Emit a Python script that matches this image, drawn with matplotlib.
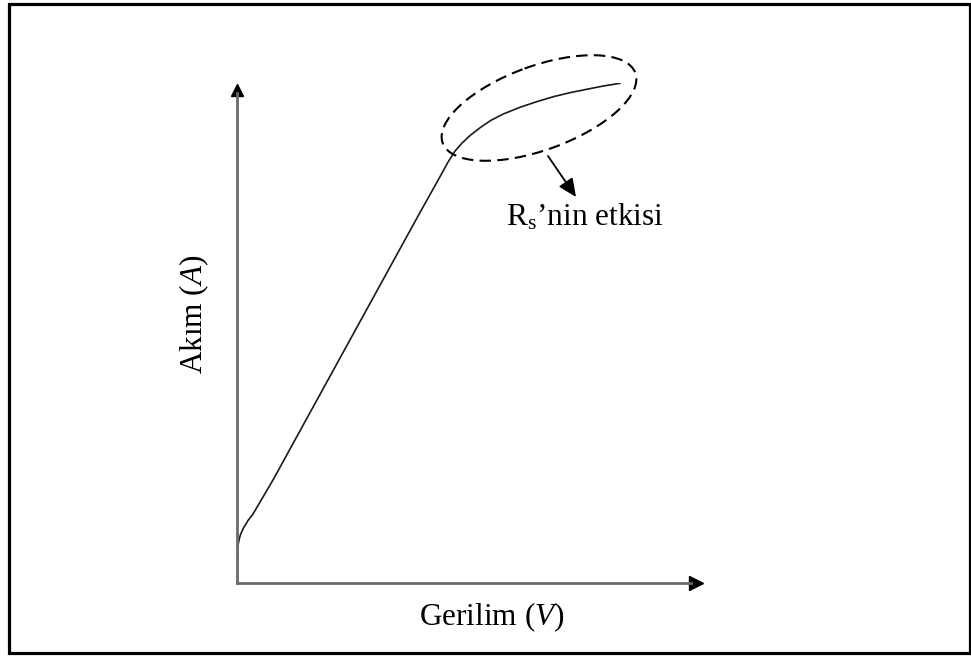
import numpy as np
import matplotlib
matplotlib.use('Agg')
import matplotlib.pyplot as plt
from matplotlib.patches import Ellipse, Rectangle

plt.rcParams['font.family'] = 'Liberation Serif'
plt.rcParams['mathtext.fontset'] = 'custom'
plt.rcParams['mathtext.rm'] = 'Liberation Serif'
plt.rcParams['mathtext.it'] = 'Liberation Serif:italic'

# I-V curve of a diode (arbitrary units)
gerilim = [0.0, 0.004, 0.015, 0.043, 0.075, 0.135, 0.235, 0.342, 0.769, 3.91,
           4.338, 4.51, 4.66, 4.81, 4.98, 5.20, 5.42, 5.69, 6.047, 6.404,
           6.759, 7.115, 7.472, 7.827, 8.184]
akim = [0.0, 0.36, 0.72, 0.86, 0.97, 1.094, 1.25, 1.38, 2.06, 7.41,
        8.126, 8.42, 8.64, 8.80, 8.95, 9.11, 9.25, 9.38, 9.514, 9.626,
        9.726, 9.806, 9.874, 9.94, 9.994]

xlabel = 'Gerilim ($\\it{V}$)'
ylabel = 'Akım ($\\it{A}$)'
note = 'R$_{\\rm s}$\u2019nin etkisi'

W, H = 971, 657
fig = plt.figure(figsize=(W / 100, H / 100), dpi=100)

# main axes: origin at (237,583) px, x to 705 px, y to 83 px
ax = fig.add_axes([237 / W, (H - 583) / H, 468 / W, 500 / H])
ax.plot(gerilim, akim, color='#1a1a1a', lw=1.2, solid_capstyle='round',
        solid_joinstyle='round')
ax.set_xlim(0, 10)
ax.set_ylim(0, 10)
ax.set_xticks([])
ax.set_yticks([])
for s in ['top', 'right']:
    ax.spines[s].set_visible(False)
for s in ['left', 'bottom']:
    ax.spines[s].set_color('#6a6a6a')
    ax.spines[s].set_linewidth(2)
ax.spines['left'].set_bounds(0, 9.8)
ax.spines['bottom'].set_bounds(0, 9.7)
ax.plot([0], [9.86], marker='^', ms=9, color='black', clip_on=False)
ax.plot([9.8], [0], marker='>', ms=10, color='black', clip_on=False)
ax.patch.set_alpha(0)

# overlay in pixel coordinates for frame and annotations
ov = fig.add_axes([0, 0, 1, 1], zorder=5)
ov.set_xlim(0, W)
ov.set_ylim(H, 0)
ov.axis('off')
ov.patch.set_alpha(0)
ov.add_patch(Rectangle((8.5, 3.5), 961, 649.5, fill=False, ec='black', lw=2.3))
ov.add_patch(Ellipse((539, 108), 205, 84, angle=-20, fill=False, ec='black',
                     lw=1.5, linestyle=(0, (5.5, 3))))
ov.annotate('', xy=(576, 197), xytext=(548, 156),
            arrowprops=dict(arrowstyle='-|>,head_length=1.1,head_width=0.5',
                            color='black', lw=1.3, shrinkA=0, shrinkB=0))
ov.text(506, 225, note, fontsize=22.5, ha='left', va='baseline')
ov.text(492, 625, xlabel, fontsize=22.5, ha='center', va='baseline')
ov.text(194, 314, ylabel, fontsize=22.5, ha='center', va='center', rotation=90)

fig.savefig('out.png', dpi=100)
